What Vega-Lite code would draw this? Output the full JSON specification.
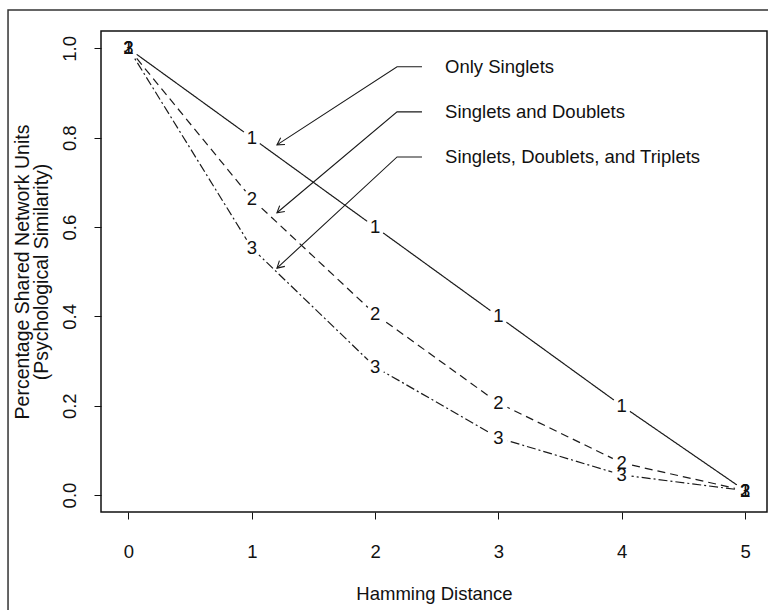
{
  "$schema": "https://vega.github.io/schema/vega-lite/v6.json",
  "width": 666,
  "height": 481,
  "autosize": {"type": "none"},
  "padding": {"left": 101, "top": 31, "right": 1, "bottom": 98},
  "background": "white",
  "config": {
    "view": {"stroke": "#111111", "strokeWidth": 1.5},
    "font": "Liberation Sans"
  },
  "datasets": {
    "series": [
      {"x": 0, "y": 1.0, "s": "1"}, {"x": 1, "y": 0.8, "s": "1"}, {"x": 2, "y": 0.6, "s": "1"},
      {"x": 3, "y": 0.4, "s": "1"}, {"x": 4, "y": 0.2, "s": "1"}, {"x": 5, "y": 0.01, "s": "1"},
      {"x": 0, "y": 1.0, "s": "2"}, {"x": 1, "y": 0.663, "s": "2"}, {"x": 2, "y": 0.405, "s": "2"},
      {"x": 3, "y": 0.206, "s": "2"}, {"x": 4, "y": 0.072, "s": "2"}, {"x": 5, "y": 0.01, "s": "2"},
      {"x": 0, "y": 1.0, "s": "3"}, {"x": 1, "y": 0.553, "s": "3"}, {"x": 2, "y": 0.287, "s": "3"},
      {"x": 3, "y": 0.128, "s": "3"}, {"x": 4, "y": 0.045, "s": "3"}, {"x": 5, "y": 0.01, "s": "3"}
    ],
    "arrows": [
      {"id": "a1", "o": 0, "x": 2.38, "y": 0.959}, {"id": "a1", "o": 1, "x": 2.178, "y": 0.959}, {"id": "a1", "o": 2, "x": 1.204, "y": 0.784},
      {"id": "h1", "o": 0, "x": 1.269, "y": 0.785}, {"id": "h1", "o": 1, "x": 1.204, "y": 0.784}, {"id": "h1", "o": 2, "x": 1.234, "y": 0.8},
      {"id": "a2", "o": 0, "x": 2.38, "y": 0.858}, {"id": "a2", "o": 1, "x": 2.178, "y": 0.858}, {"id": "a2", "o": 2, "x": 1.204, "y": 0.632},
      {"id": "h2", "o": 0, "x": 1.268, "y": 0.635}, {"id": "h2", "o": 1, "x": 1.204, "y": 0.632}, {"id": "h2", "o": 2, "x": 1.226, "y": 0.648},
      {"id": "a3", "o": 0, "x": 2.38, "y": 0.757}, {"id": "a3", "o": 1, "x": 2.178, "y": 0.757}, {"id": "a3", "o": 2, "x": 1.204, "y": 0.508},
      {"id": "h3", "o": 0, "x": 1.268, "y": 0.512}, {"id": "h3", "o": 1, "x": 1.204, "y": 0.508}, {"id": "h3", "o": 2, "x": 1.224, "y": 0.525}
    ],
    "notes": [
      {"x": 2.567, "y": 0.945, "t": "Only Singlets"},
      {"x": 2.567, "y": 0.844, "t": "Singlets and Doublets"},
      {"x": 2.567, "y": 0.744, "t": "Singlets, Doublets, and Triplets"}
    ],
    "frame": [
      {"o": 0, "x": -0.977, "y": -0.3},
      {"o": 1, "x": -0.977, "y": 1.086},
      {"o": 2, "x": 5.4, "y": 1.086}
    ]
  },
  "encoding": {
    "x": {
      "field": "x", "type": "quantitative",
      "scale": {"domain": [-0.223, 5.178], "nice": false, "zero": false},
      "axis": {
        "values": [0, 1, 2, 3, 4, 5], "format": "d", "domain": false, "grid": false,
        "tickSize": 7, "tickColor": "#111111", "labelColor": "#111111",
        "labelFontSize": 18.5, "labelPadding": 23, "labelBaseline": "top",
        "labelFlush": false, "labelOverlap": false,
        "title": "Hamming Distance", "titleFontSize": 18.5, "titleFontWeight": "normal",
        "titleColor": "#111111", "titleBaseline": "alphabetic", "titleY": 87, "titleX": 333, "titleAlign": "center"
      }
    },
    "y": {
      "field": "y", "type": "quantitative",
      "scale": {"domain": [-0.038, 1.039], "nice": false, "zero": false},
      "axis": {
        "values": [0, 0.2, 0.4, 0.6, 0.8, 1.0], "format": ".1f", "domain": false, "grid": false,
        "tickSize": 7, "tickColor": "#111111", "labelColor": "#111111",
        "labelFontSize": 18.5, "labelAngle": 270, "labelAlign": "center", "labelBaseline": "bottom",
        "labelPadding": 15, "labelFlush": false, "labelOverlap": false,
        "title": ["Percentage Shared Network Units", "(Psychological Similarity)"],
        "titleFontSize": 19.5, "titleFontWeight": "normal", "titleColor": "#111111",
        "titleAngle": 270, "titleAlign": "center", "titleBaseline": "alphabetic",
        "titleX": -73, "titleY": 240.5, "titleLineHeight": 19.5
      }
    }
  },
  "layer": [
    {
      "data": {"name": "series"},
      "mark": {"type": "line", "color": "#1a1a1a", "strokeWidth": 1.2},
      "encoding": {
        "detail": {"field": "s", "type": "nominal"},
        "strokeDash": {
          "field": "s", "type": "nominal",
          "scale": {"domain": ["1", "2", "3"], "range": [[1, 0], [8, 5], [9, 3, 2, 3]]},
          "legend": null
        }
      }
    },
    {
      "data": {"name": "series"},
      "mark": {"type": "point", "shape": "circle", "filled": true, "color": "white", "opacity": 1, "size": 400, "strokeWidth": 0}
    },
    {
      "data": {"name": "series"},
      "mark": {"type": "text", "fontSize": 18.5, "color": "#111111", "align": "center", "baseline": "middle"},
      "encoding": {"text": {"field": "s", "type": "nominal"}}
    },
    {
      "data": {"name": "arrows"},
      "mark": {"type": "line", "color": "#1a1a1a", "strokeWidth": 1.1},
      "encoding": {
        "detail": {"field": "id", "type": "nominal"},
        "order": {"field": "o", "type": "quantitative"}
      }
    },
    {
      "data": {"name": "notes"},
      "mark": {"type": "text", "fontSize": 18.5, "color": "#111111", "align": "left", "baseline": "alphabetic"},
      "encoding": {"text": {"field": "t", "type": "nominal"}}
    },
    {
      "data": {"name": "frame"},
      "mark": {"type": "line", "color": "#333333", "strokeWidth": 1.5},
      "encoding": {"order": {"field": "o", "type": "quantitative"}}
    }
  ]
}
